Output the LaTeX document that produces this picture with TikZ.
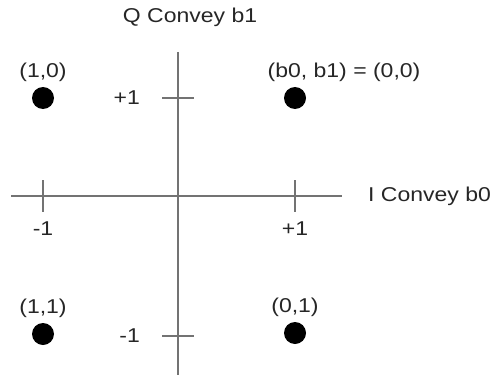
\documentclass[tikz,border=0pt]{standalone}
\usepackage{fontspec}
\setmainfont{Liberation Sans}
\newfontfamily\lblfont[FakeStretch=1.15]{Liberation Sans}
\usetikzlibrary{positioning}

\begin{document}
\begin{tikzpicture}[
    x=1pt, y=-1pt,
    node distance=4pt,
    axis/.style={line width=2.4pt, black!55},
    tick/.style={line width=2.4pt, black!55},
    point/.style={circle, fill=black, minimum size=22pt, inner sep=0pt},
    lbl/.style={font=\lblfont\fontsize{20}{23}\selectfont, text=black!85, inner sep=1pt}
]
\useasboundingbox (0,0) rectangle (502,377);

% axes
\coordinate (xmin) at (11,196);
\coordinate (xmax) at (342,196);
\coordinate (ymax) at (178,52);
\coordinate (ymin) at (178,375);
\draw[axis] (xmin) -- (xmax);
\draw[axis] (ymax) -- (ymin);

% ticks
\coordinate (txm) at (43,196);
\coordinate (txp) at (295,196);
\coordinate (typ) at (178,98);
\coordinate (tym) at (178,336);
\foreach \t in {txm,txp}
    \draw[tick] ([yshift=16pt]\t) -- ([yshift=-16pt]\t);
\foreach \t in {typ,tym}
    \draw[tick] ([xshift=-16pt]\t) -- ([xshift=16pt]\t);

\node[lbl, below=25pt of txm] (lxm) {-1};
\node[lbl, below=25pt of txp] (lxp) {+1};
\node[lbl, left=37pt of typ] (lyp) {+1};
\node[lbl, left=37pt of tym] (lym) {-1};

% axis names
\node[lbl] (axisq) at (190,17) {Q Convey b1};
\node[lbl, anchor=west] (axisi) at (367,196) {I Convey b0};

% constellation points
\node[point] (d10) at (43,98) {};
\node[point] (d00) at (295,98) {};
\node[point] (d11) at (43,334) {};
\node[point] (d01) at (295,333) {};

\node[lbl, above=of d10] (l10) {(1,0)};
\node[lbl, above=of d00, xshift=49pt] (l00) {(b0, b1) = (0,0)};
\node[lbl, above=of d11] (l11) {(1,1)};
\node[lbl, above=of d01] (l01) {(0,1)};

\end{tikzpicture}
\end{document}
